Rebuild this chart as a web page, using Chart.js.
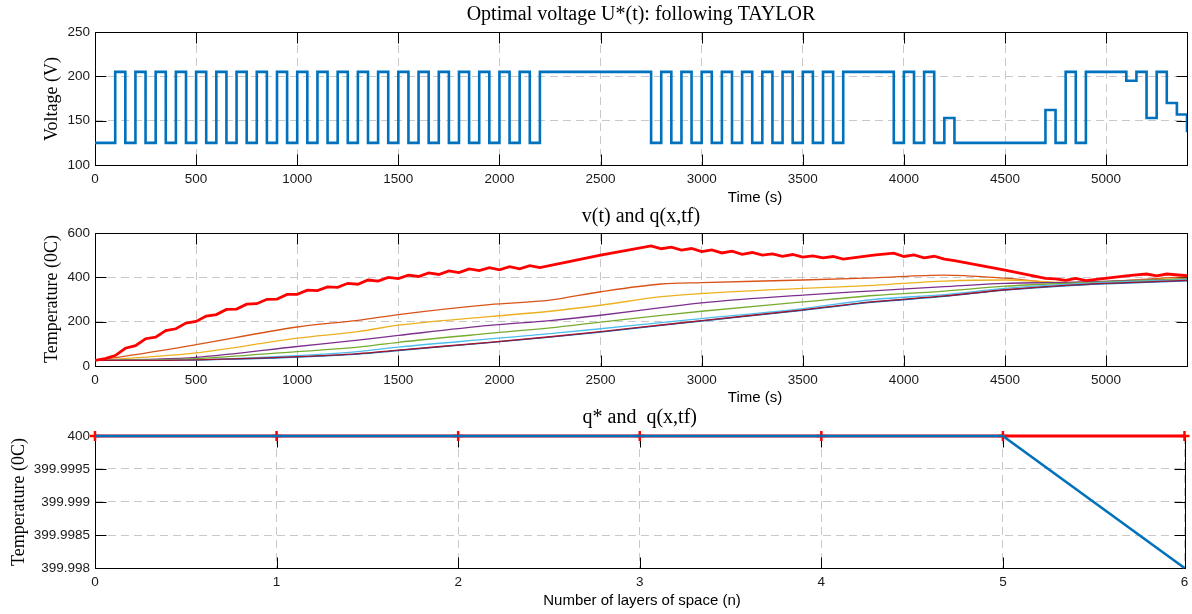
<!DOCTYPE html>
<html>
<head>
<meta charset="utf-8">
<title>Optimal voltage and temperatures</title>
<script src="https://cdn.jsdelivr.net/npm/chart.js@4.4.0/dist/chart.umd.min.js"></script>
<style>
  html, body { margin: 0; padding: 0; background: #fff; }
  #wrap { position: relative; width: 1192px; height: 614px; overflow: hidden; }
  #wrap canvas { position: absolute; left: 0; top: 0; }
</style>
</head>
<body>
<div id="wrap">
  <canvas id="voltChart" width="1192" height="614"></canvas>
  <canvas id="tempChart" width="1192" height="614"></canvas>
  <canvas id="layerChart" width="1192" height="614"></canvas>
</div>
<script>
// ---- data ----

// optimal voltage U*(t): each level holds from its time until the next one
const voltTimes = [0,
  100, 150, 200, 250, 300, 350, 400, 450, 500, 550, 600, 650, 700, 750,
  800, 850, 900, 950, 1000, 1050, 1100, 1150, 1200, 1250, 1300, 1350,
  1400, 1450, 1500, 1550, 1600, 1650, 1700, 1750, 1800, 1850, 1900, 1950,
  2000, 2050, 2100, 2150, 2200, 2750,
  2800, 2850, 2900, 2950, 3000, 3050, 3100, 3150, 3200, 3250, 3300, 3350,
  3400, 3450, 3500, 3550, 3600, 3650, 3700, 3950,
  4000, 4050, 4100, 4150, 4200, 4250, 4700, 4750, 4800, 4850, 4900,
  5100, 5150, 5200, 5250, 5300, 5350, 5400];
const voltLevels = [125,
  205, 125, 205, 125, 205, 125, 205, 125, 205, 125, 205, 125, 205, 125,
  205, 125, 205, 125, 205, 125, 205, 125, 205, 125, 205, 125,
  205, 125, 205, 125, 205, 125, 205, 125, 205, 125, 205, 125,
  205, 125, 205, 125, 205, 125,
  205, 125, 205, 125, 205, 125, 205, 125, 205, 125, 205, 125,
  205, 125, 205, 125, 205, 125, 205, 125,
  205, 125, 205, 125, 153, 125, 162, 125, 205, 125, 205,
  195, 205, 153, 205, 170, 157, 137];

// v(t): heated surface temperature (thick red)
const surfTimes = [0, 50, 100, 150, 200, 250, 300, 350, 400, 450, 500, 550,
  600, 650, 700, 750, 800, 850, 900, 950, 1000, 1050, 1100, 1150, 1200,
  1250, 1300, 1350, 1400, 1450, 1500, 1550, 1600, 1650, 1700, 1750, 1800,
  1850, 1900, 1950, 2000, 2050, 2100, 2150, 2200, 2350, 2500, 2750,
  2800, 2850, 2900, 2950, 3000, 3050, 3100, 3150, 3200, 3250, 3300, 3350,
  3400, 3450, 3500, 3550, 3600, 3650, 3700, 3850, 3950,
  4000, 4050, 4100, 4150, 4200, 4250, 4500, 4700, 4750, 4800, 4850, 4900,
  5100, 5150, 5200, 5250, 5300, 5400];
const surfTemp = [25, 33, 47, 80, 92, 123, 130, 160, 168, 194, 201, 225,
  232, 255, 257, 279, 281, 301, 302, 323, 323, 342, 340, 357, 355,
  373, 369, 388, 383, 400, 394, 410, 404, 420, 413, 429, 421,
  438, 430, 444, 434, 448, 438, 453, 444, 472, 500, 542,
  529, 536, 523, 530, 516, 524, 510, 518, 504, 512, 500, 506,
  495, 503, 491, 497, 488, 494, 482, 500, 509,
  494, 501, 488, 495, 482, 475, 432, 395, 393, 386, 395, 385,
  407, 411, 415, 407, 415, 408];

// q(x,t) inside the layers
const layerTimes = [0, 250, 500, 1000, 1300, 1500, 1950, 2250, 2500, 2800, 3000, 3500, 3850, 4200, 4500, 4800, 5100, 5400];
const qLayer1 = [25, 25, 27, 40, 54, 70, 105, 130, 153, 183, 203, 251, 288, 314, 342, 362, 374, 384];
const qLayer2 = [25, 58, 96, 176, 206, 232, 277, 297, 335, 370, 376, 388, 398, 410, 396, 374, 386, 403];
const qLayer3 = [25, 40, 59, 126, 155, 184, 223, 247, 274, 313, 327, 350, 364, 383, 388, 377, 385, 395];
const qLayer4 = [25, 30, 39, 88, 117, 138, 183, 205, 229, 263, 285, 320, 339, 358, 373, 377, 385, 392];
const qLayer5 = [25, 27, 33, 65, 85, 107, 147, 172, 198, 228, 247, 289, 318, 338, 360, 373, 383, 392];
const qLayer6 = [25, 25, 28, 47, 65, 85, 122, 146, 168, 196, 214, 259, 300, 322, 350, 368, 380, 389];
const qLayer7 = [25, 25, 28, 42, 56, 72, 107, 132, 155, 185, 205, 253, 290, 316, 344, 364, 376, 386];

// q* and q(x,tf) per layer
const layers = [0, 1, 2, 3, 4, 5, 6];
const qStar = [400, 400, 400, 400, 400, 400, 400];
const qFinal = [400, 400, 400, 400, 400, 400, 399.998];

// axis ticks
const timeTicks = [0, 500, 1000, 1500, 2000, 2500, 3000, 3500, 4000, 4500, 5000];
const voltTicks = [100, 150, 200, 250];
const tempTicks = [0, 200, 400, 600];
const layerTicks = [0, 1, 2, 3, 4, 5, 6];
const finalTicks = [399.998, 399.9985, 399.999, 399.9995, 400];
const finalTickLabels = ['399.998', '399.9985', '399.999', '399.9995', '400'];

const C = {
  blue: '#0072BD', orange: '#D95319', yellow: '#EDB120', purple: '#7E2F8E',
  green: '#77AC30', cyan: '#4DBEEE', wine: '#A2142F', red: '#FF0000'
};

/**
 * MATLAB-like box: border, inward ticks on all sides, title and labels.
 * Drawn before the datasets so the curves sit on top of the box.
 */
const matlabFrame = {
  id: 'matlabFrame',
  beforeDatasetsDraw(chart, args, opts) {
    const { ctx, chartArea: a, scales } = chart;
    const L = Math.round(a.left) + 0.5, R = Math.round(a.right) + 0.5;
    const T = Math.round(a.top) + 0.5, B = Math.round(a.bottom) + 0.5;
    ctx.save();
    ctx.strokeStyle = '#000';
    ctx.lineWidth = 1;
    ctx.beginPath();
    scales.x.ticks.forEach(t => {
      const px = Math.round(scales.x.getPixelForValue(t.value)) + 0.5;
      ctx.moveTo(px, B); ctx.lineTo(px, B - 11);
      ctx.moveTo(px, T); ctx.lineTo(px, T + 11);
    });
    scales.y.ticks.forEach(t => {
      const py = Math.round(scales.y.getPixelForValue(t.value)) + 0.5;
      ctx.moveTo(L, py); ctx.lineTo(L + 11, py);
      ctx.moveTo(R, py); ctx.lineTo(R - 11, py);
    });
    ctx.stroke();
    ctx.strokeRect(L, T, R - L, B - T);

    ctx.fillStyle = '#000';
    ctx.textAlign = 'center';
    ctx.textBaseline = 'middle';
    ctx.font = '20px "Liberation Serif"';
    ctx.fillText(opts.title, (a.left + a.right) / 2, opts.titleY);
    ctx.font = '15px "Liberation Sans"';
    ctx.fillText(opts.xLabel, opts.xLabelX, opts.xLabelY);
    ctx.translate(opts.yLabelX, opts.yLabelY);
    ctx.rotate(-Math.PI / 2);
    ctx.font = '18px "Liberation Serif"';
    ctx.fillText(opts.yLabel, 0, 0);
    ctx.restore();
  }
};

const tickFont = { family: '"Liberation Sans"', size: 13.5 };

/**
 * Build x/y scale options with a fixed plot box
 */
function makeScales(xMin, xMax, xTicks, yMin, yMax, yTicks, plotBottom, yLabels) {
  const gridOpts = { color: '#c8c8c8', lineWidth: 1, drawTicks: false };
  return {
    x: {
      type: 'linear', min: xMin, max: xMax,
      grid: gridOpts,
      border: { display: false, dash: [8, 5] },
      afterBuildTicks: s => { s.ticks = xTicks.map(v => ({ value: v })); },
      afterFit: s => { s.height = 614 - plotBottom; s.paddingLeft = 0; s.paddingRight = 0; },
      ticks: {
        autoSkip: false, maxRotation: 0, padding: 6, color: '#1a1a1a', font: tickFont,
        callback: v => String(v)
      }
    },
    y: {
      type: 'linear', min: yMin, max: yMax,
      grid: gridOpts,
      border: { display: false, dash: [8, 5] },
      afterBuildTicks: s => { s.ticks = yTicks.map(v => ({ value: v })); },
      afterFit: s => { s.width = 95; s.paddingTop = 0; s.paddingBottom = 0; },
      ticks: {
        autoSkip: false, padding: 5, color: '#1a1a1a', font: tickFont,
        callback: (v, i) => (yLabels ? yLabels[i] : String(v))
      }
    }
  };
}

function baseOptions(plotTop, scales, frame) {
  return {
    responsive: false,
    animation: false,
    devicePixelRatio: 1,
    layout: { padding: { left: 0, right: 5, top: plotTop, bottom: 0 } },
    plugins: { legend: { display: false }, tooltip: { enabled: false }, matlabFrame: frame },
    scales: scales
  };
}

function xy(xs, ys) {
  return xs.map((x, i) => ({ x: x, y: ys[i] }));
}

function thinLine(values, color) {
  return {
    data: xy(layerTimes, values), borderColor: color, borderWidth: 1.3,
    pointRadius: 0, cubicInterpolationMode: 'monotone', fill: false
  };
}

// ---- top: voltage ----
new Chart(document.getElementById('voltChart'), {
  type: 'line',
  data: {
    datasets: [{
      data: xy(voltTimes, voltLevels), stepped: true,
      borderColor: C.blue, borderWidth: 2.6, pointRadius: 0, fill: false
    }]
  },
  options: baseOptions(32,
    makeScales(0, 5400, timeTicks, 100, 250, voltTicks, 165),
    { title: 'Optimal voltage U*(t): following TAYLOR', titleY: 15,
      xLabel: 'Time (s)', xLabelX: 755, xLabelY: 198,
      yLabel: 'Voltage (V)', yLabelX: 52, yLabelY: 99 }),
  plugins: [matlabFrame]
});

// ---- middle: temperatures over time (first dataset is drawn on top) ----
new Chart(document.getElementById('tempChart'), {
  type: 'line',
  data: {
    datasets: [
      { data: xy(surfTimes, surfTemp), borderColor: C.red, borderWidth: 2.8,
        pointRadius: 0, tension: 0, fill: false },
      thinLine(qLayer7, C.wine),
      thinLine(qLayer6, C.cyan),
      thinLine(qLayer5, C.green),
      thinLine(qLayer4, C.purple),
      thinLine(qLayer3, C.yellow),
      thinLine(qLayer2, C.orange),
      thinLine(qLayer1, C.blue)
    ]
  },
  options: baseOptions(233,
    makeScales(0, 5400, timeTicks, 0, 600, tempTicks, 366),
    { title: 'v(t) and q(x,tf)', titleY: 217,
      xLabel: 'Time (s)', xLabelX: 755, xLabelY: 398,
      yLabel: 'Temperature (0C)', yLabelX: 52, yLabelY: 299 }),
  plugins: [matlabFrame]
});

// ---- bottom: final profile over layers ----
new Chart(document.getElementById('layerChart'), {
  type: 'line',
  data: {
    datasets: [
      { data: xy(layers, qFinal), borderColor: C.blue, borderWidth: 2.6,
        pointRadius: 0, tension: 0, fill: false, clip: false },
      { data: xy(layers, qStar), borderColor: C.red, borderWidth: 2.8,
        pointStyle: 'cross', pointRadius: 5, pointBorderWidth: 2.5,
        pointBorderColor: C.red, pointBackgroundColor: C.red,
        tension: 0, fill: false, clip: false }
    ]
  },
  options: baseOptions(436,
    makeScales(0, 6, layerTicks, 399.998, 400, finalTicks, 568, finalTickLabels),
    { title: 'q* and  q(x,tf)', titleY: 418,
      xLabel: 'Number of layers of space (n)', xLabelX: 642, xLabelY: 601,
      yLabel: 'Temperature (0C)', yLabelX: 19, yLabelY: 502 }),
  plugins: [matlabFrame]
});
</script>
</body>
</html>
